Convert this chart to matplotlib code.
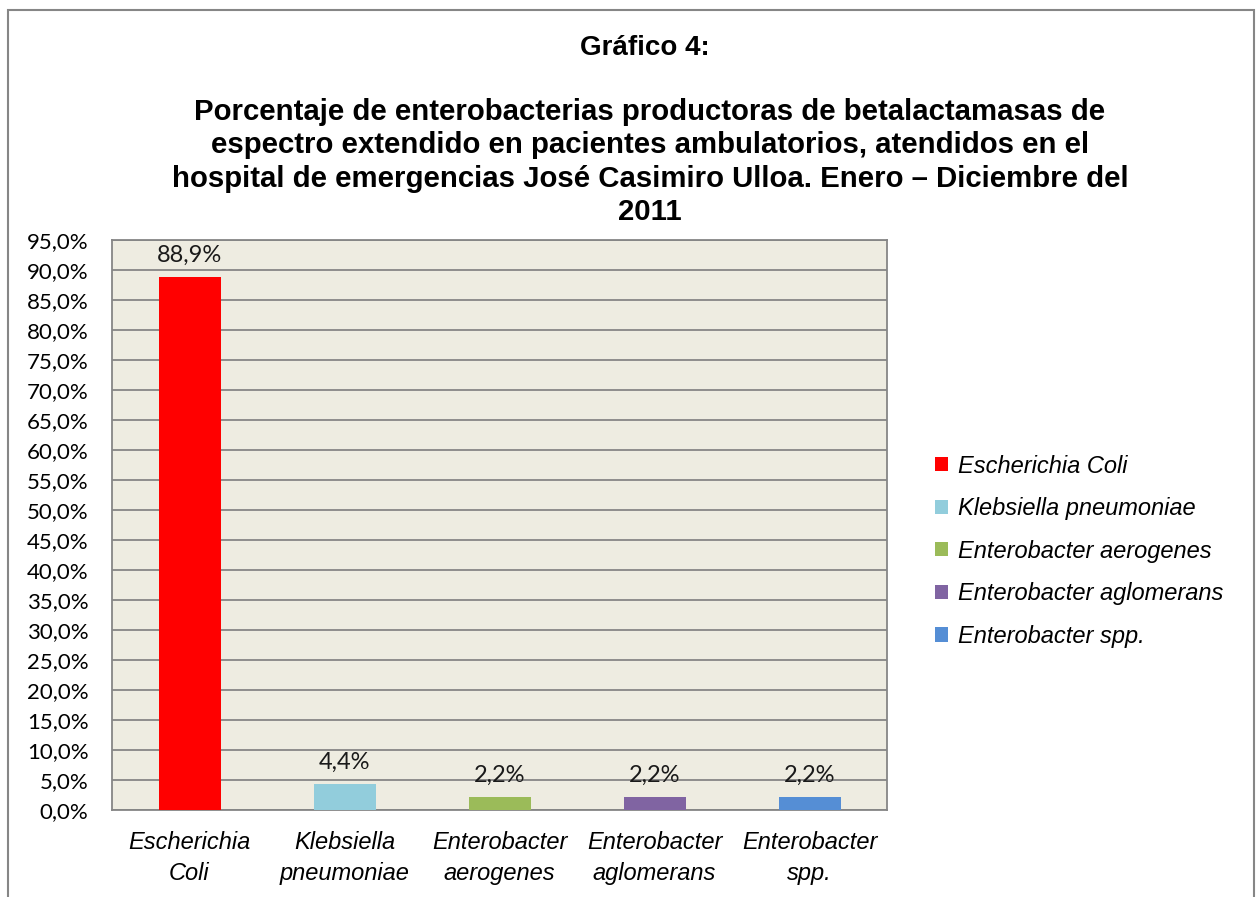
import matplotlib
matplotlib.use("Agg")
import matplotlib.pyplot as plt
from matplotlib.patches import Rectangle

# data
categories = ["Escherichia Coli", "Klebsiella pneumoniae", "Enterobacter aerogenes",
              "Enterobacter aglomerans", "Enterobacter spp."]
tick_labels = ["Escherichia\nColi", "Klebsiella\npneumoniae", "Enterobacter\naerogenes",
               "Enterobacter\naglomerans", "Enterobacter\nspp."]
values = [88.9, 4.4, 2.2, 2.2, 2.2]
colors = ["#FF0000", "#92CDDC", "#9BBB59", "#8064A2", "#558ED5"]

title = ("Porcentaje de enterobacterias productoras de betalactamasas de\n"
         "espectro extendido en pacientes ambulatorios, atendidos en el\n"
         "hospital de emergencias José Casimiro Ulloa. Enero – Diciembre del\n"
         "2011")

fig = plt.figure(figsize=(12.57, 8.97), dpi=100)
ax = fig.add_axes([112/1257, 1 - 810/897, 775/1257, 570/897])
ax.set_facecolor("#EEECE1")

x = range(len(values))
bars = ax.bar(x, values, width=0.4, color=colors, label=categories, zorder=3)

for i, v in enumerate(values):
    ax.annotate(f"{v:.1f}%".replace(".", ","), (i, v), xytext=(0, 8),
                textcoords="offset points", ha="center", va="bottom",
                fontsize=17, family="Lato", color="#1a1a1a")

ax.set_xlim(-0.5, len(values) - 0.5)
ax.set_ylim(0, 95)
yt = list(range(0, 96, 5))
ax.set_yticks(yt)
ax.set_yticklabels([f"{t:.1f}%".replace(".", ",") for t in yt], fontsize=16,
                   family="Lato")
ax.set_xticks(list(x))
ax.set_xticklabels(tick_labels, fontsize=17, style="italic", family="Liberation Sans",
                   linespacing=1.45)
ax.tick_params(axis="y", length=0, pad=17)
ax.tick_params(axis="x", length=0, pad=15)
ax.grid(axis="y", color="#868686", linewidth=1.3, zorder=1)
for s in ax.spines.values():
    s.set_color("#868686")
    s.set_linewidth(1.3)

leg = ax.legend(loc="center left", bbox_to_anchor=(1.035, 0.454), frameon=False,
                prop={"family": "Liberation Sans", "style": "italic", "size": 17},
                handlelength=0.55, handleheight=0.55, handletextpad=0.4,
                labelspacing=0.83)

fig.text(645/1257, 1 - 48/897, "Gráfico 4:", ha="center", va="center",
         fontsize=20, fontweight="bold", family="Liberation Sans")
fig.text(650/1257, 1 - 162/897, title, ha="center", va="center",
         fontsize=21.2, fontweight="bold", family="Liberation Sans", linespacing=1.23)

# outer chart frame
fig.patches.append(Rectangle((8/1257, -0.1), 1246/1257, 1.1 - 10/897,
                             transform=fig.transFigure, fill=False,
                             edgecolor="#868686", linewidth=1.5))

fig.savefig("out.png", dpi=100)
